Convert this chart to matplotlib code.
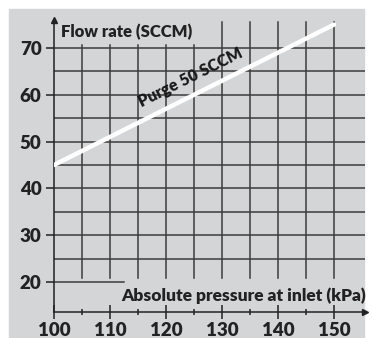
import matplotlib.pyplot as plt
from matplotlib.patches import Rectangle

# data
pressure = [100, 150]          # kPa
flow = [45, 75]                # SCCM
line_label = "Purge 50 SCCM"
xticks = [100, 110, 120, 130, 140, 150]
xminor = [105, 115, 125, 135, 145]
yticks = [20, 30, 40, 50, 60, 70]

plt.rcParams['font.family'] = ['Lato', 'DejaVu Sans']
plt.rcParams['font.weight'] = 'heavy'

fig = plt.figure(figsize=(3.72, 3.38), dpi=100)
fig.patches.append(Rectangle((9 / 372, 0), 355 / 372, 329 / 338,
                             transform=fig.transFigure, color='#d4d5d7', zorder=-10))

ax = fig.add_axes([54 / 372, 26 / 338, 311 / 372, 292 / 338])
ax.set_facecolor('none')
ax.set_xlim(100, 155.54)
ax.set_ylim(13.59, 75.98)

for s in ['top', 'right']:
    ax.spines[s].set_visible(False)
for s in ['left', 'bottom']:
    ax.spines[s].set_color('#222222')
    ax.spines[s].set_linewidth(1.1)

# grid (short under the y label, short above the x label)
for y in range(25, 75, 5):
    ax.plot([100, 155.5], [y, y], color='#3c3c3c', lw=1.1, zorder=1)
ax.plot([100, 112.5], [20, 20], color='#3c3c3c', lw=1.1, zorder=1)
for x in range(105, 155, 5):
    top = 70.6 if x <= 125 else 75.55
    ax.plot([x, x], [20.8, top], color='#3c3c3c', lw=1.1, zorder=1)

# arrows
ax.plot(1, 0, marker='>', color='#222222', ms=4, transform=ax.transAxes, clip_on=False)
ax.plot(0, 1, marker='^', color='#222222', ms=4, transform=ax.transAxes, clip_on=False)

ax.plot(pressure, flow, color='white', lw=3.2, solid_capstyle='round', zorder=3)
ax.text(124.3, 63.6, line_label, rotation=26.4, ha='center', va='center',
        fontsize=11.5, fontweight='heavy', color='#1a1a1a', rotation_mode='anchor')

ax.set_xticks(xticks)
ax.set_xticks(xminor, minor=True)
ax.set_yticks(yticks)
ax.tick_params(axis='x', which='major', direction='inout', length=10, width=1.1,
               labelsize=13.5, pad=2, colors='#222222')
ax.tick_params(axis='x', which='minor', direction='inout', length=5, width=1.1,
               colors='#222222')
ax.tick_params(axis='y', direction='out', length=6, width=1.1, labelsize=13.5,
               pad=3, colors='#222222')

ax.text(101.3, 73.5, "Flow rate (SCCM)", ha='left', va='center',
        fontsize=12, fontweight='heavy', color='#222222')
ax.text(155.8, 17.1, "Absolute pressure at inlet (kPa)", ha='right', va='center',
        fontsize=12.5, fontweight='heavy', color='#222222')

plt.savefig("out.png", dpi=100)
